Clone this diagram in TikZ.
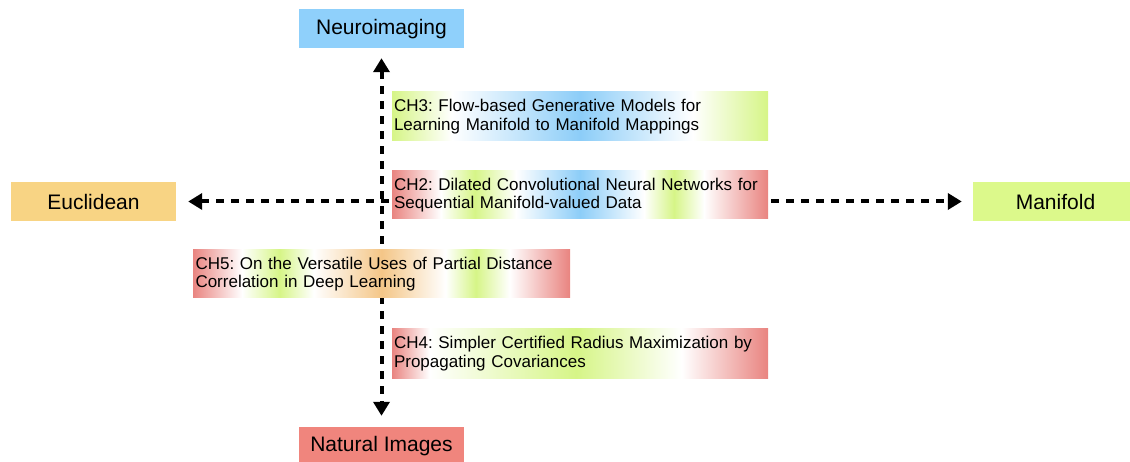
\documentclass[tikz,border=0pt]{standalone}
\usepackage{fontspec}
\setmainfont{Liberation Sans}
\usetikzlibrary{arrows.meta}
\frenchspacing

% fill colours of the four axis labels
\definecolor{neurofill}{RGB}{143,208,251}
\definecolor{naturalfill}{RGB}{240,133,125}
\definecolor{euclidfill}{RGB}{248,212,132}
\definecolor{manifoldfill}{RGB}{220,249,139}
% colours used inside the chapter gradients
\definecolor{gred}{RGB}{233,132,128}
\definecolor{ggreen}{RGB}{214,245,135}
\definecolor{gblue}{RGB}{140,205,248}
\definecolor{gorange}{RGB}{244,198,135}

% horizontal gradients; the 25bp--75bp band spans the box
\pgfdeclarehorizontalshading{chthree}{100bp}{color(0bp)=(ggreen); color(25bp)=(ggreen); color(33bp)=(white); color(50bp)=(gblue); color(65bp)=(white); color(75bp)=(ggreen); color(100bp)=(ggreen)}
\pgfdeclarehorizontalshading{chtwo}{100bp}{color(0bp)=(gred); color(25bp)=(gred); color(31.5bp)=(white); color(36bp)=(ggreen); color(41.5bp)=(white); color(50bp)=(gblue); color(58.5bp)=(white); color(62.5bp)=(ggreen); color(66.5bp)=(white); color(75bp)=(gred); color(100bp)=(gred)}
\pgfdeclarehorizontalshading{chfive}{100bp}{color(0bp)=(gred); color(25bp)=(gred); color(31.5bp)=(white); color(36.5bp)=(ggreen); color(41bp)=(white); color(50bp)=(gorange); color(58.5bp)=(white); color(62.5bp)=(ggreen); color(67bp)=(white); color(75bp)=(gred); color(100bp)=(gred)}
\pgfdeclarehorizontalshading{chfour}{100bp}{color(0bp)=(gred); color(25bp)=(gred); color(30bp)=(white); color(49.5bp)=(ggreen); color(63.5bp)=(white); color(75bp)=(gred); color(100bp)=(gred)}

\tikzset{
  axisbox/.style={rectangle, inner sep=0pt, minimum width=165pt, minimum height=39pt,
    font=\fontsize{21}{24}\selectfont},
  chapter/.style={rectangle, inner sep=0pt, minimum width=376pt, minimum height=49pt,
    text width=372pt, align=left, font=\fontsize{17}{18.7}\selectfont},
  dasharrow/.style={line width=4pt, dash pattern=on 8pt off 7pt,
    {Triangle[length=14pt,width=16pt]}-{Triangle[length=14pt,width=16pt]}}
}

\begin{document}
\begin{tikzpicture}[x=1pt,y=-1pt]
\useasboundingbox (0,0) rectangle (1130,462);
\clip (0,0) rectangle (1130,462);

% axis labels
\node[axisbox, fill=neurofill]    (neuro)    at (381.5,29)    {Neuroimaging};
\node[axisbox, fill=naturalfill]  (natural)  at (381.5,446.5) {Natural Images};
\node[axisbox, fill=euclidfill]   (euclid)   at (93.5,201.5)  {Euclidean};
\node[axisbox, fill=manifoldfill] (manifold) at (1055.5,201.5) {Manifold};

% the two dashed axes
\draw[dasharrow, shorten <=9.5pt, shorten >=11pt] (neuro) -- (natural);
\draw[dasharrow, shorten <=12pt, shorten >=11pt] (euclid) -- (manifold);

% chapters placed on the plane
\node[chapter, shading=chthree] (ch3) at (580,116.5)
  {\mbox{CH3: Flow-based Generative Models for}\\\mbox{Learning Manifold to Manifold Mappings}};
\node[chapter, shading=chtwo, minimum height=48pt] (ch2) at (580,195)
  {\mbox{CH2: Dilated Convolutional Neural Networks for}\\\mbox{Sequential Manifold-valued Data}};
\node[chapter, shading=chfive, minimum width=377pt, minimum height=48pt] (ch5) at (381.5,274)
  {\mbox{CH5: On the Versatile Uses of Partial Distance}\\\mbox{Correlation in Deep Learning}};
\node[chapter, shading=chfour] (ch4) at (580,353.5)
  {\mbox{CH4: Simpler Certified Radius Maximization by}\\\mbox{Propagating Covariances}};
\end{tikzpicture}
\end{document}
